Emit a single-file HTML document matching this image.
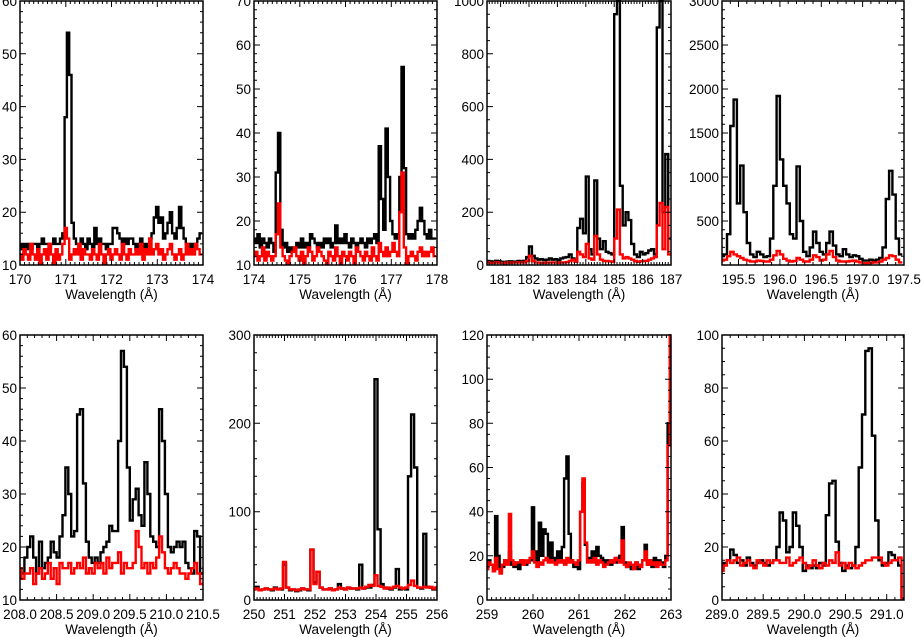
<!DOCTYPE html>
<html><head><meta charset="utf-8"><style>
html,body{margin:0;padding:0;background:#fff}
svg{display:block}
text{font-family:"Liberation Sans",sans-serif;font-size:13.5px;fill:#000}
</style></head><body>
<svg id="fig" width="921" height="637" viewBox="0 0 921 637" xmlns="http://www.w3.org/2000/svg"></svg>
<script>
// ---- data (wavelength grid start, step; intensities) ----
const p1Start = 170.0, p1Step = 0.05;
const p1Black = [14,13,14,13,14,13,14,14,13,14,15,14,14,13,14,15,14,14,15,16,
 38,54,46,18,15,14,14,15,14,13,15,14,13,17,14,15,14,14,13,14,
 14,17,17,16,15,14,15,14,15,15,14,13,14,15,14,13,14,15,16,19,
 21,18,19,15,16,18,20,16,15,17,21,17,15,14,14,13,14,14,15,16];
const p1Red = [12,11,13,12,11,14,12,11,13,10,12,13,11,14,12,10,13,11,12,14,
 17,15,11,12,13,12,14,11,13,12,12,11,13,12,11,14,12,10,12,13,
 11,12,13,12,11,14,12,11,13,12,12,13,12,14,11,13,12,15,12,13,
 14,12,13,11,12,13,14,12,11,12,13,11,12,14,12,13,12,14,13,12];
const p2Start = 174.0, p2Step = 0.05;
const p2Black = [16,15,17,14,16,15,14,16,15,13,31,40,18,14,15,13,14,13,14,15,
 14,16,14,15,14,17,16,15,14,15,14,16,15,16,14,15,19,15,16,15,
 17,15,14,16,15,14,15,16,15,14,16,15,16,17,15,37,25,18,41,30,
 20,17,16,17,30,55,32,17,16,17,16,18,20,23,20,17,16,18,16,16];
const p2Red = [12,13,11,12,14,11,13,12,11,12,17,24,14,12,11,9,12,13,14,12,
 11,13,10,12,14,13,11,12,14,13,12,11,10,13,12,11,14,12,10,13,
 12,11,13,12,10,14,13,12,11,13,12,11,14,12,11,15,13,12,14,12,
 13,15,13,12,22,31,14,10,12,13,12,11,13,14,12,13,12,13,14,12];
const p3Start = 180.55, p3Step = 0.1;
const p3Black = [15,14,12,16,14,12,10,13,14,12,
 13,15,13,16,30,70,35,25,20,22,
 18,20,25,20,22,18,25,28,30,40,
 25,20,140,175,120,335,60,40,320,100,
 60,90,50,45,40,950,1100,300,150,200,
 170,80,40,30,50,40,45,55,60,40,
 900,1100,200,420,100];
const p3Red = [10,8,8,10,9,8,7,9,8,9,
 9,10,9,10,15,35,15,10,9,8,
 8,9,9,10,9,8,9,10,11,15,
 20,12,50,40,30,80,25,20,110,40,
 20,15,15,14,12,100,210,40,25,30,
 25,20,15,12,14,15,16,20,25,30,
 150,235,60,220,40];
const p4Start = 195.30, p4Step = 0.04;
const p4Black = [100,120,350,1580,1880,700,1130,600,250,120,90,150,120,90,100,300,900,1920,
 1200,900,700,350,300,1120,500,150,100,200,380,250,150,120,250,380,220,120,100,180,120,90,110,100,70,
 50,50,60,50,60,80,200,750,1070,800,300,120];
const p4Red = [50,60,100,150,120,100,80,60,50,40,40,50,45,40,40,60,110,160,
 120,70,50,40,45,80,60,40,40,60,110,90,50,60,120,160,90,50,40,40,40,45,50,40,30,
 20,20,25,30,30,40,60,80,110,100,60,30];
const p5Start = 208.0, p5Step = 0.04;
const p5Black = [16,15,18,20,22,18,15,21,16,17,18,21,19,18,22,26,35,30,22,23,45,46,32,21,18,
 17,18,17,19,20,21,24,23,23,40,57,54,35,25,29,31,26,24,36,30,22,21,20,46,40,
 30,20,19,20,21,20,21,17,16,15,23,22,15];
const p5Red = [16,14,15,15,16,13,15,16,14,15,17,14,16,13,17,16,16,17,15,16,17,16,18,15,16,
 15,17,16,17,15,18,16,17,17,19,15,17,16,16,17,23,20,16,17,15,17,16,18,22,19,
 16,15,16,17,16,15,15,14,15,16,17,15,13];
const p6Start = 250.0, p6Step = 0.1;
const p6Black = [12,15,11,12,13,12,11,14,12,12,40,14,11,12,10,11,13,12,11,57,
 20,32,14,12,12,13,11,12,18,13,12,14,13,13,12,40,13,14,14,17,
 250,80,18,14,13,12,14,35,12,13,12,140,210,150,14,13,75,15,14,12,14];
const p6Red = [12,13,11,12,13,12,12,13,12,13,43,14,12,12,11,12,13,12,12,57,
 18,32,14,12,12,13,11,12,14,13,12,14,13,13,13,14,13,15,17,16,
 28,16,15,13,14,13,15,16,14,13,14,17,22,16,14,14,15,14,15,13,14];
const p7Start = 259.0, p7Step = 0.05;
const p7Black = [14,18,16,15,38,20,13,15,18,17,22,16,15,17,14,18,17,16,17,18,
 42,22,18,35,20,32,30,18,26,19,17,22,19,24,55,65,30,18,15,15,
 14,40,53,25,18,19,22,20,24,20,19,18,17,18,16,18,17,19,20,33,
 17,15,16,14,15,17,14,16,18,25,16,18,15,19,16,18,17,15,20,80,125];
const p7Red = [14,17,16,13,19,14,12,16,18,16,39,18,16,17,17,18,16,18,17,19,
 22,17,15,17,16,18,19,17,18,17,16,18,17,18,16,19,17,18,17,16,
 18,40,55,26,17,18,17,19,16,18,17,15,16,17,18,17,19,18,17,27,
 16,15,17,16,14,17,16,15,18,22,16,18,16,17,15,17,16,16,18,70,125];
const p8Start = 289.0, p8Step = 0.04;
const p8Black = [12,14,15,19,17,14,15,13,16,14,13,14,15,14,13,14,15,20,33,30,18,20,33,28,20,
 11,13,12,13,12,14,13,32,44,45,22,14,11,13,12,13,20,50,70,94,95,62,30,15,13,14,18,17,15,13,0];
const p8Red = [11,13,15,14,15,16,13,14,15,13,12,15,14,13,15,14,15,15,14,14,16,13,14,15,16,
 14,12,13,15,13,12,14,13,15,14,18,13,14,12,14,13,12,13,14,15,15,16,16,16,14,13,14,15,15,16,0];
const tickX1 = ["170","171","172","173","174"];

const panels = [
 {name:"panel-170", x0:20,x1:203,y0:1,y1:265, xmin:170,xmax:174,xmaj:1,xmin_:0.1, ymin:10,ymax:60,ymaj:10,ymn:2, ylabels:[10,20,30,40,50,60], xdec:0, s:p1Start,st:p1Step,b:p1Black,r:p1Red},
 {name:"panel-174", x0:254,x1:437,y0:1,y1:265, xmin:174,xmax:178,xmaj:1,xmin_:0.1, ymin:10,ymax:70,ymaj:10,ymn:2, ylabels:[10,20,30,40,50,60,70], xdec:0, s:p2Start,st:p2Step,b:p2Black,r:p2Red},
 {name:"panel-181", x0:487,x1:671,y0:1,y1:265, xmin:180.52,xmax:187,xmaj:1,xmin_:0.1, ymin:0,ymax:1000,ymaj:200,ymn:50, ylabels:[0,200,400,600,800,1000], xdec:0, s:p3Start,st:p3Step,b:p3Black,r:p3Red},
 {name:"panel-195", x0:722,x1:904,y0:1,y1:265, xmin:195.3,xmax:197.5,xmaj:0.5,xmin_:0.1, ymin:0,ymax:3000,ymaj:500,ymn:100, ylabels:[500,1000,1500,2000,2500,3000], xdec:1, s:p4Start,st:p4Step,b:p4Black,r:p4Red},
 {name:"panel-208", x0:20,x1:203,y0:335,y1:600, xmin:208,xmax:210.5,xmaj:0.5,xmin_:0.1, ymin:10,ymax:60,ymaj:10,ymn:2, ylabels:[10,20,30,40,50,60], xdec:1, s:p5Start,st:p5Step,b:p5Black,r:p5Red},
 {name:"panel-250", x0:254,x1:437,y0:335,y1:600, xmin:250,xmax:256,xmaj:1,xmin_:0.1, ymin:0,ymax:300,ymaj:100,ymn:20, ylabels:[0,100,200,300], xdec:0, s:p6Start,st:p6Step,b:p6Black,r:p6Red},
 {name:"panel-259", x0:487,x1:671,y0:335,y1:600, xmin:259,xmax:263,xmaj:1,xmin_:0.1, ymin:0,ymax:120,ymaj:20,ymn:5, ylabels:[0,20,40,60,80,100,120], xdec:0, s:p7Start,st:p7Step,b:p7Black,r:p7Red},
 {name:"panel-289", x0:722,x1:904,y0:335,y1:600, xmin:289,xmax:291.21,xmaj:0.5,xmin_:0.1, ymin:0,ymax:100,ymaj:20,ymn:5, ylabels:[0,20,40,60,80,100], xdec:1, s:p8Start,st:p8Step,b:p8Black,r:p8Red}
];
const NS="http://www.w3.org/2000/svg";
const fig=document.getElementById('fig');
function mk(tag,attrs,parent){const e=document.createElementNS(NS,tag);for(const k in attrs)e.setAttribute(k,attrs[k]);parent.appendChild(e);return e;}
panels.forEach(p=>{
 const g=mk('g',{},fig);
 
 
 const sx=v=>p.x0+(v-p.xmin)/(p.xmax-p.xmin)*(p.x1-p.x0);
 const sy=v=>p.y1-(Math.max(p.ymin,Math.min(p.ymax,v))-p.ymin)/(p.ymax-p.ymin)*(p.y1-p.y0);
 const cid='c'+p.name;
 const cp=mk('clipPath',{id:cid},g);
 mk('rect',{x:p.x0,y:p.y0-1,width:p.x1-p.x0,height:p.y1-p.y0+1},cp);
 function step(arr,color,nm){
  let d='';
  arr.forEach((v,i)=>{const xa=sx(p.s+p.st*(i-0.5)),xb=sx(p.s+p.st*(i+0.5)),y=sy(v);
   d+=(i===0?'M':'L')+xa.toFixed(1)+','+y.toFixed(1)+'L'+xb.toFixed(1)+','+y.toFixed(1);});
  const e=mk('path',{d:d,fill:'none',stroke:color,'stroke-width':2.4,'stroke-linejoin':'miter','clip-path':'url(#'+cid+')'},g);
  
  
 }
 step(p.b,'#000','black-spectrum');
 step(p.r,'#f00','red-spectrum');
 const fr=mk('rect',{x:p.x0,y:p.y0,width:p.x1-p.x0,height:p.y1-p.y0,fill:'none',stroke:'#000','stroke-width':1.5},g);
 
 
 let td='';
 const n0=Math.ceil(p.xmin/p.xmin_-1e-6), n1=Math.floor(p.xmax/p.xmin_+1e-6);
 for(let n=n0;n<=n1;n++){const v=n*p.xmin_;const x=sx(v);
  const maj=Math.abs(v/p.xmaj-Math.round(v/p.xmaj))<1e-6;const L=maj?6:3;
  td+=`M${x.toFixed(1)},${p.y1}v${-L}M${x.toFixed(1)},${p.y0}v${L}`;}
 const m0=Math.ceil(p.ymin/p.ymn-1e-6), m1=Math.floor(p.ymax/p.ymn+1e-6);
 for(let n=m0;n<=m1;n++){const v=n*p.ymn;const y=sy(v);
  const maj=Math.abs(v/p.ymaj-Math.round(v/p.ymaj))<1e-6;const L=maj?6:3;
  td+=`M${p.x0},${y.toFixed(1)}h${L}M${p.x1},${y.toFixed(1)}h${-L}`;}
 mk('path',{d:td,stroke:'#000','stroke-width':1,fill:'none'},g);
 const k0=Math.ceil(p.xmin/p.xmaj-1e-6),k1=Math.floor(p.xmax/p.xmaj+1e-6);
 for(let k=k0;k<=k1;k++){const v=k*p.xmaj;
  const t=mk('text',{x:sx(v).toFixed(1),y:p.y1+19,'text-anchor':'middle'},g);
  t.textContent=v.toFixed(p.xdec);
  
  }
 p.ylabels.forEach(v=>{
  const t=mk('text',{x:p.x0-3,y:(sy(v)+5).toFixed(1),'text-anchor':'end'},g);
  t.textContent=String(v);
  
  });
 const ttl=mk('text',{x:(p.x0+p.x1)/2,y:p.y1+34,'text-anchor':'middle','font-size':'12.5'},g);
 ttl.textContent='Wavelength  (Å)';
 
 
});
</script>
</body></html>
